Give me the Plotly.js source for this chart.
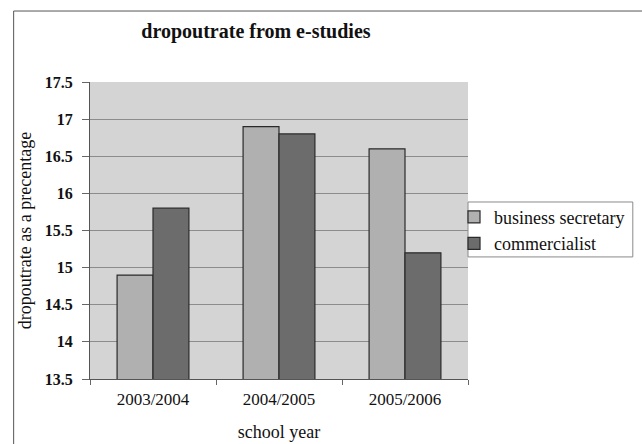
<!DOCTYPE html>
<html>
<head>
<meta charset="utf-8">
<script src="https://cdn.plot.ly/plotly-3.0.1.min.js"></script>
<style>html,body{margin:0;padding:0;background:#fff;}</style>
</head>
<body>
<div id="chart" style="width:642px;height:444px;"></div>
<script>
var categories = ["2003/2004", "2004/2005", "2005/2006"];
var businessSecretary = [14.9, 16.9, 16.6];
var commercialist = [15.8, 16.8, 15.2];
var seriesNames = ["business secretary", "commercialist"];

var font = "Liberation Serif, Times New Roman, serif";

var traces = [
  {type: "bar", name: seriesNames[0], x: categories, y: businessSecretary,
   marker: {color: "#b0b0b0", line: {color: "#2a2a2a", width: 1.2}}},
  {type: "bar", name: seriesNames[1], x: categories, y: commercialist,
   marker: {color: "#6c6c6c", line: {color: "#2a2a2a", width: 1.2}}}
];

var layout = {
  width: 642, height: 444,
  margin: {l: 90, r: 171, t: 82, b: 65},
  paper_bgcolor: "#ffffff",
  plot_bgcolor: "#d4d4d4",
  barmode: "group",
  bargap: 0.43,
  bargroupgap: 0,
  font: {family: font, color: "#111", size: 17},
  title: {text: "<b>dropoutrate from e-studies</b>", font: {family: font, size: 20, color: "#111"},
          x: 0.439, xref: "paper", xanchor: "center", y: 0.930, yref: "container", yanchor: "middle"},
  xaxis: {
    title: {text: "school year", font: {family: font, size: 18}, standoff: 16},
    tickfont: {family: font, size: 17},
    showline: true, linecolor: "#555", linewidth: 1,
    ticks: "outside", tickson: "boundaries", ticklen: 5, tickcolor: "#666",
    ticklabelstandoff: 5,
    showgrid: false, zeroline: false
  },
  yaxis: {
    title: {text: "dropoutrate as a precentage", font: {family: font, size: 18}, standoff: 8},
    range: [13.5, 17.5], dtick: 0.5, tick0: 13.5,
    tickfont: {family: font, size: 16, weight: "bold"},
    showline: true, linecolor: "#555", linewidth: 1,
    ticks: "outside", ticklen: 7, tickcolor: "#666",
    ticklabelstandoff: 6,
    showgrid: true, gridcolor: "#8c8c8c", gridwidth: 1, zeroline: false
  },
  legend: {
    x: 0.963, xanchor: "left", y: 0.607, yanchor: "top",
    borderwidth: 0, bgcolor: "rgba(0,0,0,0)",
    font: {family: font, size: 18, color: "#111"}
  },
  shapes: [
    {type: "rect", xref: "paper", yref: "paper", x0: -0.202, x1: 1.5, y0: -0.3, y1: 1.239,
     line: {color: "#555", width: 1}, fillcolor: "rgba(0,0,0,0)", layer: "below"},
    {type: "rect", xref: "paper", yref: "paper", x0: 1.0, x1: 1.436, y0: 0.411, y1: 0.596,
     line: {color: "#8a8a8a", width: 1}, fillcolor: "#ffffff", layer: "below"}
  ]
};

Plotly.newPlot("chart", traces, layout, {displayModeBar: false, staticPlot: true});
</script>
</body>
</html>
